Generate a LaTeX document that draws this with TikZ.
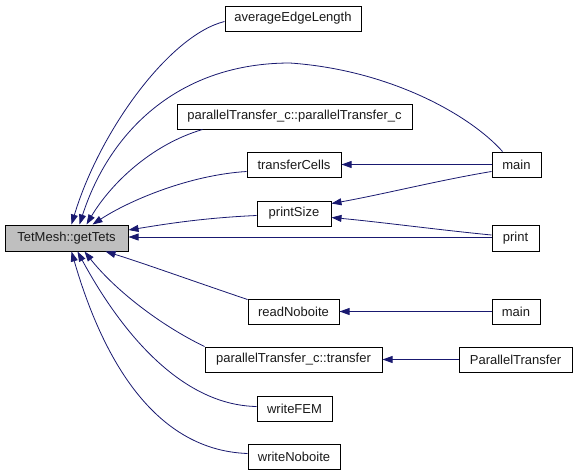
\documentclass[tikz,border=0pt]{standalone}
\usepackage{fontspec}
\setmainfont{Liberation Sans}
\usetikzlibrary{arrows.meta,calc}
\definecolor{edgecol}{HTML}{191970}
\definecolor{boxgray}{HTML}{BFBFBF}
\definecolor{txt}{HTML}{1A1A1A}
\tikzset{
  box/.style={draw=black, line width=0.75pt, inner sep=0pt, text=txt, font=\fontsize{9.75pt}{11pt}\selectfont},
  edge/.style={draw=edgecol, line width=0.6pt, -{Triangle[length=7.5pt,width=5.2pt]}, color=edgecol},
}
\newcommand\bx[7][]{\node[box,#1, minimum width={(#5-#3)*0.75pt}, minimum height={(#6-#4)*0.75pt}] (#2) at ({(#3+#5)/2},{(#4+#6)/2}) {#7};}
\begin{document}
\begin{tikzpicture}[x=0.75pt,y=-0.75pt]
\useasboundingbox[fill=white] (0,0) rectangle (576,472);
\bx[fill=boxgray]{gt}{5}{225}{128}{251}{TetMesh::getTets}
\bx{ael}{225}{6}{361}{31}{averageEdgeLength}
\bx{ptc}{177}{104}{412}{129}{parallelTransfer\_c::parallelTransfer\_c}
\bx{tc}{247}{152}{341}{177}{transferCells}
\bx{ps}{257}{201}{331}{226}{printSize}
\bx{maina}{492}{152}{541}{177}{main}
\bx{pr}{492}{225}{539}{251}{print}
\bx{rn}{248}{299}{339}{324}{readNoboite}
\bx{mainb}{492}{299}{540}{324}{main}
\bx{ptt}{205}{347}{382}{372}{parallelTransfer\_c::transfer}
\bx{PT}{459}{347}{572}{372}{ParallelTransfer}
\bx{wf}{257}{396}{332}{421}{writeFEM}
\bx{wn}{248}{444}{340}{469}{writeNoboite}

% into getTets, top side
\draw[edge] ($(ael.west)+(0,3)$) .. controls (170,35) and (100,130) .. ($(gt.north west)+(67,0)$);
\draw[edge] ($(maina.north west)+(11,0)$) .. controls (470,115) and (390,70) .. (290,63)
   .. controls (180,63) and (110,130) .. ($(gt.north west)+(75,0)$);
\draw[edge] ($(ptc.south west)+(26,0)$) .. controls (150,145) and (110,185) .. ($(gt.north west)+(82,0)$);
\draw[edge] ($(tc.west)+(0,7)$) .. controls (190,175) and (130,200) .. ($(gt.north west)+(88,0)$);
% right side
\draw[edge] ($(ps.west)+(0,2)$) .. controls (200,218) and (160,225) .. ($(gt.east)+(0,-8)$);
\draw[edge] ($(pr.west)+(0,-1)$) -- ($(gt.east)+(0,-1)$);
% bottom side
\draw[edge] ($(rn.north west)+(0,1)$) .. controls (190,280) and (140,262) .. ($(gt.south west)+(101,0)$);
\draw[edge] ($(ptt.north west)+(0,0)$) .. controls (160,325) and (115,290) .. ($(gt.south west)+(80,0)$);
\draw[edge] ($(wf.west)+(0,-2)$) .. controls (180,405) and (120,330) .. ($(gt.south west)+(73,0)$);
\draw[edge] ($(wn.west)+(0,-3)$) .. controls (150,450) and (100,350) .. ($(gt.south west)+(67,0)$);

% other calls
\draw[edge] ($(maina.west)+(0,0)$) -- ($(tc.east)+(0,0)$);
\draw[edge] ($(maina.west)+(0,7)$) .. controls (440,180) and (380,195) .. ($(ps.east)+(0,-10)$);
\draw[edge] ($(pr.west)+(0,-3)$) .. controls (440,230) and (380,222) .. ($(ps.east)+(0,4)$);
\draw[edge] (mainb.west) -- (rn.east);
\draw[edge] (PT.west) -- (ptt.east);
\end{tikzpicture}
\end{document}
